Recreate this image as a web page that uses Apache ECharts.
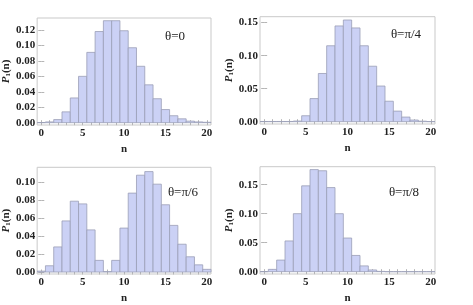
<!DOCTYPE html>
<html>
<head>
<meta charset="utf-8">
<script src="https://cdn.jsdelivr.net/npm/echarts@6/dist/echarts.min.js"></script>
<style>html,body{margin:0;padding:0;background:#fff}#c{width:473px;height:305px}</style>
</head>
<body>
<div id="c"></div>
<script>
// ---- data ----
const nValues = [0,1,2,3,4,5,6,7,8,9,10,11,12,13,14,15,16,17,18,19,20];
const pTheta0   = [0.0001,0.001,0.004,0.014,0.032,0.060,0.091,0.118,0.132,0.132,0.119,0.097,0.073,0.049,0.031,0.017,0.009,0.005,0.002,0.001,0.0005];
const pThetaPi4 = [0.0003,0.0003,0.0003,0.0003,0.001,0.009,0.035,0.073,0.115,0.145,0.154,0.142,0.115,0.084,0.054,0.031,0.016,0.007,0.0025,0.0008,0.0002];
const pThetaPi6 = [0.001,0.007,0.028,0.057,0.079,0.076,0.047,0.013,0.0005,0.013,0.049,0.088,0.108,0.112,0.098,0.075,0.052,0.031,0.017,0.008,0.003];
const pThetaPi8 = [0,0.004,0.020,0.053,0.100,0.148,0.176,0.174,0.145,0.100,0.058,0.028,0.010,0.003,0.0005,0,0,0,0,0,0];
const xTickLabels = [0,5,10,15,20];
const yTicks0   = [0,0.02,0.04,0.06,0.08,0.10,0.12];
const yTicksPi4 = [0,0.05,0.10,0.15];
const yTicksPi6 = [0,0.02,0.04,0.06,0.08,0.10];
const yTicksPi8 = [0,0.05,0.10,0.15];
const panelLabels = ['θ=0','θ=π/4','θ=π/6','θ=π/8'];
const yAxisName = '{p|P}{s|1}{b|(n)}';
const xAxisName = 'n';

// ---- layout ----
const panels = [
  {vals:pTheta0,   ticks:yTicks0,   grid:{left:36, top:18,    width:175, height:107},   ymin:-0.003, ymax:0.1355, label:{x:175, y:37}},
  {vals:pThetaPi4, ticks:yTicksPi4, grid:{left:260, top:16.7, width:175, height:107.3}, ymin:-0.0035, ymax:0.159, label:{x:406, y:35}},
  {vals:pThetaPi6, ticks:yTicksPi6, grid:{left:36, top:167.3, width:175, height:107.7}, ymin:-0.0022, ymax:0.1168, label:{x:183, y:193}},
  {vals:pThetaPi8, ticks:yTicksPi8, grid:{left:260, top:166.7, width:175, height:107.3}, ymin:-0.004, ymax:0.181, label:{x:404, y:193}}
];

const serif = '"Liberation Serif", "DejaVu Serif", serif';
const fillC = '#cbd1f5', edgeC = '#9b9eb6', frameC = '#c9c9c9', tickC = '#b5b5b5';

const grids = [], xAxes = [], yAxes = [], series = [], graphics = [];
const allInts = nValues.slice();

panels.forEach((pn, i) => {
  grids.push(Object.assign({show:true, borderColor:frameC, borderWidth:1, backgroundColor:'transparent'}, pn.grid));
  xAxes.push({
    type:'value', gridIndex:i, min:-0.5, max:20.5, position:'bottom',
    name:xAxisName, nameLocation:'middle', nameGap:19,
    nameTextStyle:{fontFamily:serif, fontWeight:'bold', fontSize:11, color:'#222'},
    axisLine:{show:false},
    axisTick:{show:true, inside:true, length:2.5, lineStyle:{color:tickC}, customValues:allInts},
    axisLabel:{fontFamily:serif, fontWeight:'bold', fontSize:11, color:'#222', margin:3, customValues:xTickLabels},
    splitLine:{show:false}
  });
  xAxes.push({
    type:'value', gridIndex:i, min:-0.5, max:20.5, position:'top',
    axisLine:{show:false},
    axisTick:{show:true, inside:true, length:2.5, lineStyle:{color:tickC}, customValues:allInts},
    axisLabel:{show:false}, splitLine:{show:false}
  });
  yAxes.push({
    type:'value', gridIndex:i, min:pn.ymin, max:pn.ymax, position:'left',
    name:yAxisName, nameLocation:'middle', nameGap:24, nameRotate:90,
    nameTextStyle:{color:'#222', rich:{
      p:{fontFamily:serif, fontStyle:'italic', fontWeight:'bold', fontSize:11, color:'#222'},
      s:{fontFamily:serif, fontWeight:'bold', fontSize:7, color:'#222', verticalAlign:'bottom', padding:[3,0,0,0]},
      b:{fontFamily:serif, fontWeight:'bold', fontSize:11, color:'#222'}
    }},
    axisLine:{show:false},
    axisTick:{show:true, inside:true, length:3, lineStyle:{color:tickC}, customValues:pn.ticks},
    axisLabel:{fontFamily:serif, fontWeight:'bold', fontSize:11, color:'#222', margin:2,
               customValues:pn.ticks, formatter:v => v.toFixed(2)},
    splitLine:{show:false}
  });
  yAxes.push({
    type:'value', gridIndex:i, min:pn.ymin, max:pn.ymax, position:'right',
    axisLine:{show:false},
    axisTick:{show:true, inside:true, length:3, lineStyle:{color:tickC}, customValues:pn.ticks},
    axisLabel:{show:false}, splitLine:{show:false}
  });
  series.push({
    type:'custom', xAxisIndex:2*i, yAxisIndex:2*i, clip:true,
    data: nValues.map((n, k) => [n, pn.vals[k]]),
    encode:{x:0, y:1},
    renderItem: function(params, api){
      const x = api.value(0), y = api.value(1);
      const a = api.coord([x - 0.5, 0]);
      const b = api.coord([x + 0.5, y]);
      return {type:'rect', shape:{x:a[0], y:b[1], width:b[0]-a[0], height:a[1]-b[1]},
              style:{fill:fillC, stroke:edgeC, lineWidth:0.8}};
    }
  });
  graphics.push({type:'text', x:pn.label.x, y:pn.label.y,
    style:{text:panelLabels[i], fontFamily:serif, fontSize:13, fill:'#222', align:'center', verticalAlign:'middle'}});
});

const chart = echarts.init(document.getElementById('c'), null, {renderer:'canvas'});
chart.setOption({
  animation:false,
  backgroundColor:'#fff',
  grid:grids, xAxis:xAxes, yAxis:yAxes, series:series, graphic:graphics
});
</script>
</body>
</html>
